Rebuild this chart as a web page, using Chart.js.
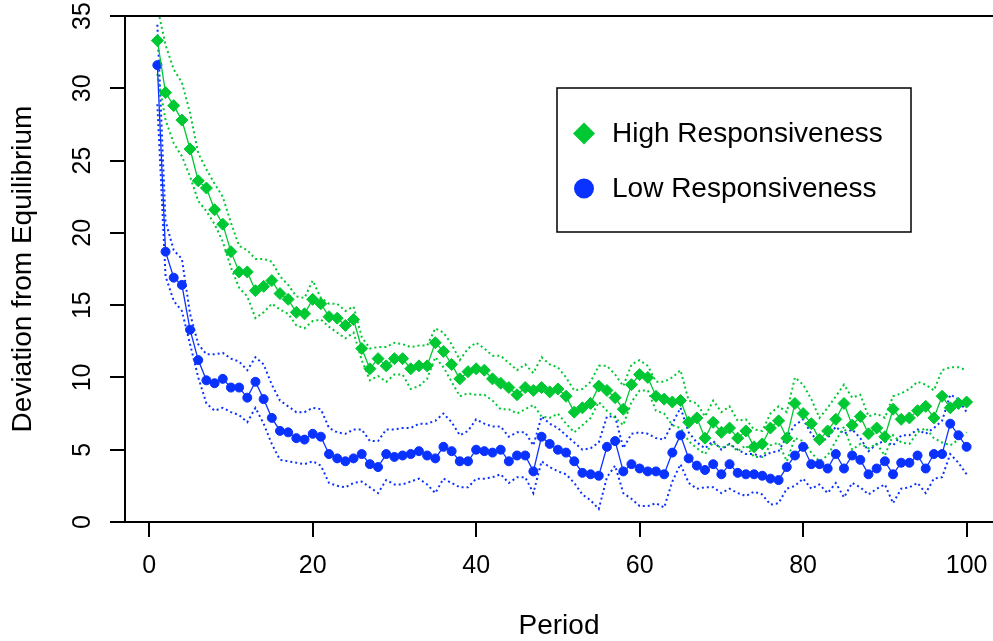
<!DOCTYPE html>
<html>
<head>
<meta charset="utf-8">
<script src="https://cdn.jsdelivr.net/npm/chart.js@4.4.1/dist/chart.umd.min.js"></script>
<style>
  html, body { margin: 0; padding: 0; background: #fff; }
  #wrap { width: 993px; height: 641px; }
</style>
</head>
<body>
<div id="wrap"><canvas id="chart" width="993" height="641"></canvas></div>
<script>
// Period 1..100 on the x axis
const periods = Array.from({ length: 100 }, (_, i) => i + 1);
const xTicks = [0, 20, 40, 60, 80, 100];
const yTicks = [0, 5, 10, 15, 20, 25, 30, 35];

// High responsiveness (green diamonds) and its dotted band
const highMean = [
  33.3, 29.7, 28.8, 27.8, 25.8, 23.6, 23.1, 21.6, 20.6, 18.7,
  17.3, 17.3, 16.0, 16.3, 16.7, 15.8, 15.4, 14.5, 14.4, 15.4,
  15.1, 14.2, 14.1, 13.6, 14.0, 12.0, 10.6, 11.3, 10.8, 11.3,
  11.3, 10.6, 10.8, 10.8, 12.4, 11.8, 10.9, 9.9, 10.4, 10.6,
  10.5, 9.9, 9.6, 9.3, 8.8, 9.3, 9.1, 9.3, 9.0, 9.2,
  8.7, 7.6, 7.9, 8.2, 9.4, 9.1, 8.6, 7.8, 9.5, 10.2,
  10.0, 8.7, 8.5, 8.3, 8.4, 6.9, 7.2, 5.8, 6.9, 6.2,
  6.5, 5.8, 6.3, 5.2, 5.4, 6.5, 7.0, 5.8, 8.2, 7.5,
  6.8, 5.7, 6.3, 7.1, 8.2, 6.7, 7.3, 6.1, 6.5, 5.9,
  7.8, 7.1, 7.2, 7.7, 8.0, 7.2, 8.7, 7.9, 8.2, 8.3
];
const highUpper = [
  35.6, 33.0, 31.3, 30.4, 28.3, 25.5, 24.4, 23.4, 22.5, 20.7,
  19.1, 18.8, 18.2, 18.2, 18.0, 17.0, 16.4, 15.6, 15.5, 16.7,
  15.5, 15.1, 15.1, 14.6, 14.9, 12.8, 12.0, 12.1, 12.1, 12.4,
  12.3, 12.1, 12.2, 12.2, 13.4, 13.1, 12.3, 11.2, 12.0, 12.4,
  12.0, 11.5, 11.5, 11.0, 10.5, 10.9, 10.3, 11.4, 10.9, 10.7,
  10.0, 9.1, 9.2, 9.7, 10.8, 10.8, 10.2, 9.4, 10.9, 11.2,
  10.8, 9.7, 9.7, 10.0, 10.5, 8.4, 8.2, 7.3, 8.4, 7.6,
  8.0, 7.0, 7.1, 6.4, 6.3, 7.5, 8.0, 7.6, 10.0, 9.5,
  8.5, 7.2, 7.9, 8.7, 9.5, 8.6, 8.8, 7.3, 7.5, 7.2,
  8.7, 8.9, 9.2, 9.7, 9.5, 9.1, 10.5, 10.7, 10.7, 10.5
];
const highLower = [
  31.0, 27.8, 26.2, 25.3, 23.9, 22.2, 21.5, 20.6, 19.4, 17.6,
  16.2, 15.6, 14.1, 14.5, 15.1, 14.7, 14.4, 13.6, 13.4, 13.9,
  14.0, 13.5, 13.1, 12.7, 13.1, 11.2, 9.8, 10.1, 9.7, 10.2,
  10.2, 9.2, 9.4, 9.9, 11.4, 10.7, 9.7, 8.7, 8.9, 8.8,
  8.8, 8.4, 7.8, 7.8, 7.5, 7.8, 8.1, 7.3, 7.2, 7.5,
  6.8, 6.2, 6.7, 7.2, 8.3, 7.7, 7.2, 6.7, 8.3, 9.1,
  9.1, 7.7, 7.5, 6.7, 6.5, 5.6, 5.1, 4.7, 5.5, 5.1,
  5.4, 4.9, 5.3, 4.5, 4.5, 5.3, 5.5, 4.2, 5.8, 5.6,
  4.8, 4.2, 4.6, 5.6, 6.6, 5.0, 5.4, 5.1, 5.4, 4.6,
  6.0, 5.5, 5.4, 6.2, 6.5, 5.8, 5.5, 5.3, 5.7, 6.2
];

// Low responsiveness (blue circles) and its dotted band
const lowMean = [
  31.6, 18.7, 16.9, 16.4, 13.3, 11.2, 9.8, 9.6, 9.9, 9.3,
  9.3, 8.6, 9.7, 8.5, 7.2, 6.3, 6.2, 5.8, 5.7, 6.1,
  5.9, 4.7, 4.4, 4.2, 4.4, 4.7, 4.0, 3.8, 4.7, 4.5,
  4.6, 4.7, 4.9, 4.6, 4.4, 5.2, 4.9, 4.2, 4.2, 5.0,
  4.9, 4.8, 5.0, 4.2, 4.6, 4.6, 3.5, 5.9, 5.4, 5.0,
  4.8, 4.2, 3.4, 3.3, 3.2, 5.2, 5.6, 3.5, 4.0, 3.7,
  3.5, 3.5, 3.3, 4.8, 6.0, 4.4, 3.9, 3.6, 4.0, 3.3,
  4.0, 3.4, 3.3, 3.3, 3.2, 3.0, 2.9, 3.8, 4.6, 5.2,
  4.0, 4.0, 3.7, 4.7, 3.7, 4.6, 4.3, 3.3, 3.7, 4.2,
  3.3, 4.1, 4.1, 4.6, 3.7, 4.7, 4.7, 6.8, 6.0, 5.2
];
const lowUpper = [
  34.4, 20.8, 18.8, 18.2, 14.4, 12.3, 11.6, 11.6, 11.7, 11.3,
  11.1, 10.5, 11.4, 10.9, 9.5, 8.4, 8.0, 7.6, 7.6, 7.9,
  7.8, 6.5, 6.2, 6.1, 6.4, 6.4, 5.6, 5.6, 6.4, 6.4,
  6.5, 6.5, 6.8, 6.8, 7.0, 7.5, 6.9, 6.0, 6.3, 7.1,
  6.8, 6.6, 6.6, 5.9, 6.2, 6.2, 5.3, 7.3, 6.8, 6.5,
  6.0, 5.5, 5.0, 5.1, 5.5, 7.3, 7.3, 5.1, 6.1, 6.2,
  6.1, 5.8, 5.7, 6.8, 7.9, 6.2, 5.5, 5.1, 5.6, 5.0,
  5.4, 5.0, 4.7, 4.7, 4.5, 4.8, 4.9, 5.9, 6.7, 7.1,
  6.1, 5.5, 5.8, 6.6, 6.1, 6.4, 5.8, 4.9, 5.4, 5.6,
  5.3, 6.0, 6.0, 6.4, 6.1, 6.5, 7.0, 8.8, 8.5, 7.6
];
const lowLower = [
  28.9, 17.0, 15.3, 14.6, 12.3, 10.0, 8.2, 7.7, 7.9, 7.6,
  7.4, 6.9, 7.9, 6.8, 5.4, 4.3, 4.2, 4.1, 4.0, 4.2,
  3.9, 2.7, 2.5, 2.4, 2.7, 2.8, 2.4, 2.0, 2.9, 2.6,
  2.6, 2.8, 3.0, 2.6, 2.0, 3.0, 2.7, 2.4, 2.4, 3.0,
  3.0, 3.1, 3.3, 2.7, 3.1, 3.1, 2.0, 4.2, 3.8, 3.5,
  3.3, 2.7, 1.9, 1.5, 0.9, 3.1, 3.9, 2.0, 1.6, 1.1,
  1.1, 1.3, 1.0, 2.8, 4.0, 2.7, 2.3, 2.4, 2.4, 2.0,
  2.3, 2.0, 1.8, 2.1, 1.9, 1.2, 1.3, 2.3, 2.5, 3.0,
  2.3, 2.6, 2.0, 2.7, 1.7, 2.7, 2.4, 1.9, 2.3, 2.6,
  1.3, 2.3, 2.4, 2.7, 2.0, 3.0, 3.1, 4.7, 4.1, 3.3
];

const GREEN = '#00c832';
const BLUE = '#0a32ff';
const FONT = "'Liberation Sans', Arial, Helvetica, sans-serif";

function pts(values) {
  return periods.map((p, i) => ({ x: p, y: values[i] }));
}

function band(values, color) {
  return {
    data: pts(values),
    borderColor: color,
    borderWidth: 2,
    borderDash: [2, 3],
    pointRadius: 0,
    fill: false,
    showInLegend: false
  };
}

// top frame line (the plot box is cut at the right edge)
const frameTop = {
  id: 'frameTop',
  afterDraw(chart) {
    const { ctx, chartArea } = chart;
    ctx.save();
    ctx.strokeStyle = '#000';
    ctx.lineWidth = 2;
    ctx.beginPath();
    ctx.moveTo(chartArea.left - 1, chartArea.top);
    ctx.lineTo(chart.width, chartArea.top);
    ctx.stroke();
    ctx.restore();
  }
};

// boxed legend like R's legend()
const boxLegend = {
  id: 'boxLegend',
  afterDraw(chart, args, opts) {
    const ctx = chart.ctx;
    const items = chart.data.datasets.filter(d => d.showInLegend && d.label);
    ctx.save();
    ctx.fillStyle = '#fff';
    ctx.fillRect(opts.x, opts.y, opts.w, opts.h);
    ctx.strokeStyle = '#000';
    ctx.lineWidth = 1.5;
    ctx.strokeRect(opts.x, opts.y, opts.w, opts.h);
    ctx.font = '28px ' + FONT;
    ctx.textBaseline = 'middle';
    items.forEach((d, i) => {
      const cy = opts.y + 45.5 + i * 55;
      const cx = opts.x + 27;
      ctx.fillStyle = d.pointBackgroundColor;
      ctx.beginPath();
      if (d.pointStyle === 'rectRot') {
        ctx.moveTo(cx - 11, cy);
        ctx.lineTo(cx, cy - 11);
        ctx.lineTo(cx + 11, cy);
        ctx.lineTo(cx, cy + 11);
        ctx.closePath();
      } else {
        ctx.arc(cx, cy, 10, 0, Math.PI * 2);
      }
      ctx.fill();
      ctx.fillStyle = '#000';
      ctx.fillText(d.label, opts.x + 55, cy + 1);
    });
    ctx.restore();
  }
};

new Chart(document.getElementById('chart'), {
  type: 'line',
  data: {
    datasets: [
      {
        label: 'High Responsiveness',
        data: pts(highMean),
        borderColor: GREEN,
        borderWidth: 1.3,
        pointStyle: 'rectRot',
        pointRadius: 6,
        pointBorderWidth: 1,
        pointBackgroundColor: GREEN,
        pointBorderColor: GREEN,
        fill: false,
        showInLegend: true
      },
      {
        label: 'Low Responsiveness',
        data: pts(lowMean),
        borderColor: BLUE,
        borderWidth: 1.3,
        pointStyle: 'circle',
        pointRadius: 4.5,
        pointBorderWidth: 1,
        pointBackgroundColor: BLUE,
        pointBorderColor: BLUE,
        fill: false,
        showInLegend: true
      },
      band(highUpper, GREEN),
      band(highLower, GREEN),
      band(lowUpper, BLUE),
      band(lowLower, BLUE)
    ]
  },
  options: {
    responsive: false,
    animation: false,
    devicePixelRatio: 1,
    events: [],
    layout: { autoPadding: false, padding: { top: 16, left: 0, right: 0, bottom: 0 } },
    plugins: {
      legend: { display: false },
      tooltip: { enabled: false },
      boxLegend: { x: 557, y: 88, w: 354, h: 144 }
    },
    scales: {
      x: {
        type: 'linear',
        min: -2.96,
        max: 103.23,
        afterFit(scale) {
          scale.height = 119;
          scale.paddingLeft = 0;
          scale.paddingRight = 0;
        },
        afterBuildTicks(scale) { scale.ticks = xTicks.map(v => ({ value: v })); },
        ticks: {
          includeBounds: false,
          autoSkip: false,
          color: '#000',
          padding: 14,
          maxRotation: 0,
          font: { family: FONT, size: 25 }
        },
        grid: {
          drawOnChartArea: false,
          tickLength: 15,
          tickColor: '#000',
          tickWidth: 2,
          color: '#000',
          lineWidth: 2
        },
        border: { display: true, color: '#000', width: 2 },
        title: {
          display: true,
          text: 'Period',
          color: '#000',
          padding: { top: 0, bottom: -2 },
          font: { family: FONT, size: 28 }
        }
      },
      y: {
        type: 'linear',
        min: 0,
        max: 35,
        afterFit(scale) {
          scale.width = 125;
          scale.paddingTop = 0;
          scale.paddingBottom = 0;
        },
        afterBuildTicks(scale) { scale.ticks = yTicks.map(v => ({ value: v })); },
        ticks: {
          autoSkip: false,
          color: '#000',
          padding: 13,
          minRotation: 90,
          maxRotation: 90,
          crossAlign: 'center',
          font: { family: FONT, size: 25 }
        },
        grid: {
          drawOnChartArea: false,
          tickLength: 15,
          tickColor: '#000',
          tickWidth: 2,
          color: '#000',
          lineWidth: 2
        },
        border: { display: true, color: '#000', width: 2 },
        title: {
          display: true,
          text: 'Deviation from Equilibrium',
          color: '#000',
          padding: { top: 6, bottom: 0 },
          font: { family: FONT, size: 28 }
        }
      }
    }
  },
  plugins: [frameTop, boxLegend]
});
</script>
</body>
</html>
